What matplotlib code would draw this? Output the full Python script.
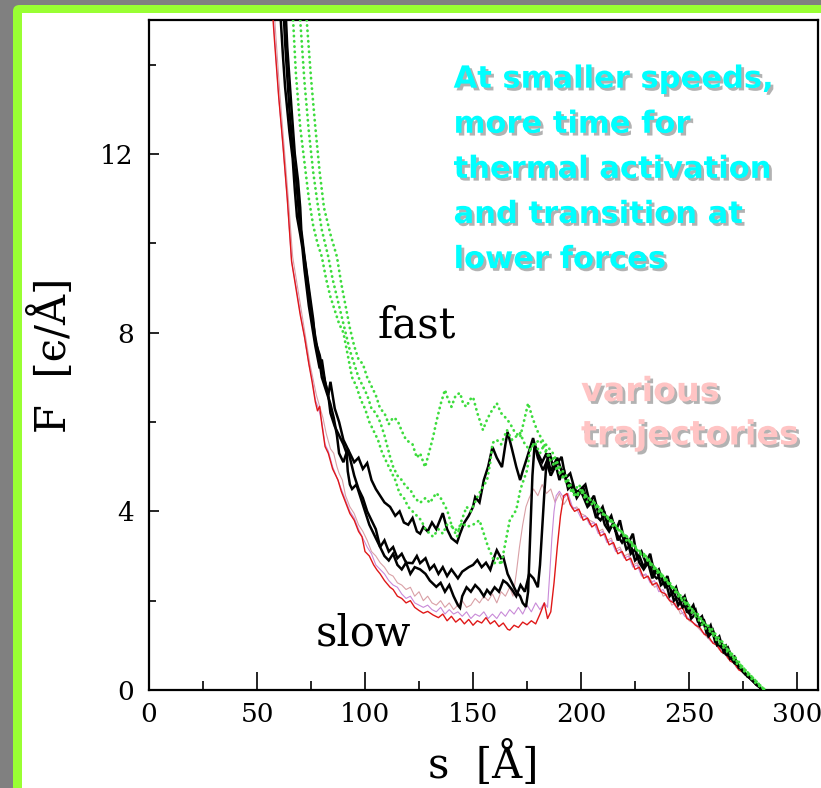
import matplotlib
matplotlib.use("Agg")
import matplotlib.pyplot as plt
import matplotlib.patheffects as pe
from matplotlib.patches import FancyBboxPatch, Rectangle

# ---- force-extension traces: (s [Å], F [eps/Å]) ----
red_trace = [(56,16.0),(58,14.6),(60,13.3),(62,12.2),(64,11.0),(66,9.6),(68,9.0),(70,8.4),(72,7.9),(74,7.3),
             (75.5,6.9),(77,6.45),(78,6.25),(79,6.35),(80,5.95),(81.5,5.45),(83,5.3),(85,4.95),(87.5,4.7),(89,4.45),
             (91,4.2),(93,3.95),(95,3.8),(97,3.55),(98.6,3.43),(100,3.1),(102,3.0),(104,2.8),(105.5,2.69),(107,2.6),
             (109,2.45),(111.6,2.3),(113,2.25),(115,2.1),(117,2.05),(119,1.95),(121,2.0),(123,1.85),(125,1.78),(127,1.72),
             (129,1.76),(131.5,1.68),(134,1.62),(136,1.7),(138,1.55),(140,1.65),(142,1.52),(144,1.6),(146,1.48),(148,1.58),
             (150,1.45),(152,1.55),(154,1.5),(156,1.62),(158,1.48),(160,1.55),(162,1.42),(164,1.5),(166,1.36),(167,1.34),
             (169,1.45),(171,1.4),(173,1.52),(175,1.46),(177,1.55),(179,1.48),(181,1.7),(183,1.95),(184.5,1.6),(186,1.75),
             (187.5,2.4),(189,3.2),(190.5,3.9),(192,4.35),(193.5,4.4),(195,4.15),(197,4.0),(199,4.05),(201,3.8),(203,3.85),
             (205,3.65),(207,3.72),(209,3.45),(211,3.5),(213,3.25),(215,3.3),(217,3.05),(219,3.1),(221,2.9),(223,2.95),
             (225,2.7),(227,2.75),(229,2.5),(231,2.55),(233,2.35),(235,2.4),(237,2.2),(239,2.15),(241,2.0),(243,1.95),
             (245,1.8),(247,1.85),(249,1.6),(251,1.55),(253,1.45),(255,1.4),(257,1.25),(259,1.2),(261,1.05),(263,1.0),
             (265,0.85),(267,0.8),(269,0.65),(271,0.6),(273,0.45),(275,0.4),(277,0.3),(279,0.22),(281,0.12),(283,0.04),(284,0.0)]

rose_trace = [(57,16.0),(58.5,14.8),(60.5,13.4),(62.5,12.2),(64.5,11.0),(66.5,9.7),(68.5,9.1),(70.5,8.5),(72.5,7.9),(74.5,7.3),
              (76,6.95),(77.5,6.6),(79,6.35),(80.5,6.1),(82,5.75),(84,5.4),(85.5,5.3),(87,5.0),(88,4.85),(89.5,4.7),
              (91,4.35),(93,4.1),(95,3.95),(97,3.7),(99,3.55),(101,3.35),(103,3.1),(105,3.0),(107,2.85),(109,2.75),
              (111,2.6),(113,2.55),(115,2.4),(117,2.35),(119,2.25),(121,2.3),(123,2.1),(125,2.2),(127,2.0),(129,2.1),
              (131,1.95),(133,1.9),(135,2.0),(137,1.85),(139,1.95),(141,1.8),(143,1.9),(145,2.0),(147,1.85),(149,1.9),
              (151,2.05),(153,1.95),(155,2.1),(157,2.0),(159,2.15),(161,1.95),(163,2.2),(165,2.1),(167,2.3),(168.5,2.1),
              (170,2.6),(171.5,3.2),(173,3.7),(174.5,4.1),(176,4.3),(178,4.5),(180,4.35),(182,4.6),(184,4.4),(186,4.5),
              (188,4.2),(190,4.4),(192,4.15),(194,4.3),(196,4.05),(198,4.1),(200,3.95),(202,3.9),(204,3.8),(206,3.75),
              (208,3.55),(210,3.6),(212,3.35),(214,3.4),(216,3.15),(218,3.2),(220,3.0),(222,3.05),(224,2.8),(226,2.85),
              (228,2.6),(230,2.55),(232,2.5),(234,2.3),(236,2.35),(238,2.1),(240,2.15),(242,1.9),(244,1.95),(246,1.7),
              (248,1.75),(250,1.55),(252,1.5),(254,1.4),(256,1.3),(258,1.2),(260,1.1),(262,1.05),(264,0.9),(266,0.85),
              (268,0.7),(270,0.65),(272,0.5),(274,0.45),(276,0.35),(278,0.25),(280,0.18),(282,0.08),(284,0.0)]

violet_trace = [(56.5,16.0),(58,14.7),(60,13.3),(62,12.2),(64,11.0),(66,9.6),(68,9.05),(70,8.45),(72,7.9),(74,7.3),
                (75.5,6.95),(77,6.5),(78.5,6.3),(80,6.0),(81.5,5.5),(83,5.35),(85,5.0),(87,4.75),(89,4.5),(91,4.25),
                (93,4.0),(95,3.85),(97,3.6),(99,3.4),(101,3.2),(103,3.05),(105,2.8),(107,2.7),(109,2.6),(111,2.45),
                (113,2.35),(115,2.3),(117,2.15),(119,2.05),(121,2.1),(123,1.95),(125,1.9),(127,1.85),(129,1.9),(131,1.8),
                (133,1.75),(135,1.85),(137,1.7),(139,1.8),(141,1.7),(143,1.75),(145,1.65),(147,1.75),(149,1.6),(151,1.7),
                (153,1.65),(155,1.75),(157,1.6),(159,1.7),(161,1.6),(163,1.75),(165,1.65),(167,1.8),(169,1.7),(171,1.85),
                (173,1.7),(175,1.9),(177,1.75),(179,1.95),(181,1.8),(183,1.95),(184.5,1.85),(185.5,2.6),(186.5,3.4),(187.5,4.0),
                (188.5,4.35),(190,4.45),(192,4.3),(194,4.4),(196,4.1),(198,4.05),(200,3.85),(202,3.9),(204,3.7),(206,3.75),
                (208,3.5),(210,3.55),(212,3.3),(214,3.35),(216,3.1),(218,3.15),(220,2.95),(222,3.0),(224,2.75),(226,2.8),
                (228,2.55),(230,2.6),(232,2.4),(234,2.45),(236,2.2),(238,2.25),(240,2.05),(242,2.0),(244,1.85),(246,1.8),
                (248,1.65),(250,1.6),(252,1.5),(254,1.45),(256,1.3),(258,1.25),(260,1.1),(262,1.05),(264,0.95),(266,0.85),
                (268,0.75),(270,0.65),(272,0.55),(274,0.45),(276,0.35),(278,0.27),(280,0.17),(282,0.08),(283.5,0.0)]

black_trace_1 = [(60,16.0),(61,15.0),(62,14.2),(63,13.5),(65,12.5),(66.5,11.9),(67.5,11.2),(68.5,10.6),(70,10.2),(71,9.9),
                 (72,9.4),(74,8.6),(76,8.0),(77,7.7),(79,7.2),(80,7.4),(81.5,6.9),(83,6.6),(84,6.9),(86,6.3),
                 (88,6.0),(90,5.6),(91.5,5.45),(93,5.3),(95,5.1),(97,5.2),(99,4.95),(101,5.08),(103,4.7),(105,4.5),
                 (107,4.35),(109,4.2),(111.6,4.1),(114,3.9),(116,4.0),(118,3.75),(120,3.7),(122,3.85),(124,3.55),(125.5,3.5),
                 (127,3.65),(129,3.55),(131,3.75),(133,3.6),(136,3.96),(138,3.6),(140,3.4),(142.6,3.3),(144,3.5),(146,3.75),
                 (148,3.9),(150,4.1),(151,4.32),(153,4.2),(155,4.7),(157,5.0),(159,5.44),(161,5.2),(163.4,4.99),(165,5.5),
                 (166,5.78),(168,5.4),(170,5.0),(171.8,4.7),(173,4.9),(175,5.2),(177.8,5.64),(180,5.2),(182.4,4.92),(184,5.1),
                 (186,4.8),(188,5.0),(191,5.22),(193,4.7),(195,4.6),(197,4.4),(199.5,4.48),(202,4.6),(204,4.2),(206,4.35),
                 (208,3.95),(210,4.1),(212,3.75),(214,3.9),(216,3.55),(218,3.8),(220,3.35),(222,3.3),(224,3.5),(226,2.95),
                 (228,3.1),(230,2.85),(232,3.05),(234,2.6),(236,2.7),(238,2.4),(240,2.55),(242,2.15),(244,2.3),(246,1.95),
                 (248,2.1),(250,1.75),(252,1.9),(254,1.55),(256,1.65),(258,1.3),(260,1.45),(262,1.1),(264,1.2),(266,0.85),
                 (268,0.95),(270,0.7),(272,0.6),(274,0.5),(276,0.35),(278,0.3),(280,0.18),(282,0.1),(284,0.0)]

black_trace_2 = [(61.5,16.0),(63,14.5),(65,13.0),(67,11.8),(68,11.5),(69.5,10.6),(71,10.0),(73,9.3),(75,8.5),(77,7.9),
                 (78.5,7.5),(80,7.0),(82,6.7),(84,6.4),(85.5,6.1),(87,5.7),(88,5.3),(90,5.1),(92,5.4),(93,5.2),
                 (95,4.8),(97,4.5),(99,4.3),(101,4.0),(103,3.8),(105,3.6),(107,3.2),(109,3.35),(111,3.1),(113,3.2),
                 (115,2.95),(117,3.05),(119,2.85),(122,2.84),(124,3.0),(125.5,2.84),(128,2.95),(130,2.7),(132,2.8),(134,2.6),
                 (136,2.75),(138,2.55),(140,2.7),(143,2.5),(145,2.65),(148,2.75),(150,2.8),(152,2.91),(154,2.75),(156,2.85),
                 (158,2.69),(160,3.0),(161,3.13),(163,2.95),(164,2.98),(166,2.6),(168,2.4),(170,2.2),(171.8,2.1),(173,1.95),
                 (174.5,1.86),(175.5,2.2),(176.5,3.5),(177.5,4.8),(178.5,5.5),(180,5.3),(182,5.1),(184,5.3),(186,4.9),(188,5.1),
                 (190,4.7),(192,4.95),(194,4.5),(196,4.6),(198,4.3),(200,4.45),(203,4.1),(205,4.2),(207,3.85),(209,4.05),
                 (211,3.7),(213,3.55),(215,3.75),(217,3.35),(219,3.5),(221,3.15),(223,3.25),(225,2.9),(227,3.0),(229,2.75),
                 (231,2.95),(233,2.6),(235,2.5),(237,2.55),(239,2.3),(241,2.35),(243,2.0),(245,2.1),(247,1.85),(249,1.95),
                 (251,1.6),(253,1.7),(255,1.45),(257,1.5),(259,1.2),(261,1.3),(263,1.0),(265,1.05),(267,0.8),(269,0.75),
                 (271,0.6),(273,0.55),(275,0.4),(277,0.32),(279,0.22),(281,0.14),(283,0.05),(284.5,0.0)]

black_trace_3 = [(62.5,16.0),(64,14.4),(66,13.0),(67.5,12.0),(69,11.4),(70,10.8),(70.5,10.3),(72,9.7),(74,9.0),(76,8.3),
                 (77,7.8),(79,7.5),(81,7.0),(83,6.6),(84,6.2),(86,5.9),(88,5.7),(90,5.5),(91.5,5.3),(92,4.9),
                 (93,4.6),(94,4.5),(96,4.6),(98,4.3),(100,4.0),(102,3.7),(104,3.5),(106,3.3),(107,3.2),(109,3.0),
                 (111,2.9),(113,3.05),(115,2.8),(117,2.7),(119,2.85),(121,2.6),(123,2.75),(125.5,2.7),(128,2.6),(130,2.45),
                 (133,2.31),(135,2.4),(137,2.2),(139,2.35),(141,2.1),(143,1.9),(144,1.84),(145,2.1),(147,2.3),(149,2.2),
                 (151,2.35),(153,2.25),(155,2.1),(156.5,2.24),(158,2.15),(160,2.3),(162,2.2),(164,2.45),(165.7,2.39),(168,2.25),
                 (170,2.1),(172,2.35),(174,2.2),(176,2.6),(178,2.5),(180,2.3),(181,2.8),(182,3.6),(183,4.4),(184,5.1),
                 (185.5,5.3),(187,5.0),(189,5.2),(191,4.9),(193,4.75),(195,4.85),(197,4.5),(199,4.4),(201,4.55),(203,4.15),
                 (205,4.25),(207,3.9),(209,3.8),(211,3.95),(213,3.6),(215,3.7),(217,3.45),(219,3.3),(221,3.45),(223,3.05),
                 (225,3.15),(227,2.85),(229,2.7),(231,2.85),(233,2.5),(235,2.7),(237,2.35),(239,2.45),(241,2.1),(243,2.2),
                 (245,1.9),(247,2.05),(249,1.75),(251,1.7),(253,1.8),(255,1.45),(257,1.55),(259,1.25),(261,1.35),(263,1.05),
                 (265,0.95),(267,1.0),(269,0.7),(271,0.75),(273,0.5),(275,0.45),(277,0.3),(279,0.25),(281,0.12),(283,0.05),(284,0.0)]

green_trace_1 = [(72.3,16.0),(73,15.0),(75,13.7),(77,12.6),(79,11.6),(81,10.8),(84,10.2),(87,9.7),(89,9.1),(91,8.6),
                 (93,8.1),(95,7.7),(97,7.4),(99,7.3),(101,7.0),(103,6.8),(105,6.6),(107,6.3),(109,6.2),(111,5.95),
                 (113,6.1),(115,6.04),(117,5.8),(119,5.6),(122,5.5),(124,5.2),(125.5,5.3),(127.8,4.99),(129,5.2),(131.5,5.66),
                 (133,6.0),(135,6.4),(137,6.72),(138.5,6.5),(140,6.34),(142,6.6),(144,6.65),(145.5,6.4),(147,6.34),(148.5,6.5),
                 (150,6.56),(152,6.2),(154.6,5.82),(156,6.0),(158,6.2),(161,6.42),(163,6.2),(165,6.1),(167,5.98),(169,5.8),
                 (171.8,5.66),(173.5,6.0),(175.5,6.42),(177.5,6.1),(179.6,5.82),(182,5.6),(184.5,5.45),(187,5.3),(190,5.0),(193,4.8),
                 (195,4.6),(198,4.32),(200,4.5),(203,4.3),(206,4.2),(209,4.05),(212,3.85),(215,3.75),(218,3.55),(221,3.45),
                 (224,3.2),(227,3.1),(230,2.95),(233,2.75),(236,2.6),(239,2.45),(242,2.3),(245,2.1),(248,1.95),(251,1.75),
                 (254,1.6),(257,1.4),(260,1.3),(263,1.1),(266,0.95),(269,0.8),(272,0.6),(275,0.45),(278,0.3),(281,0.15),
                 (284,0.03),(285,0.0)]

green_trace_2 = [(69.3,16.0),(70,15.0),(72,13.6),(74,12.5),(76,11.6),(78,10.9),(80,10.3),(83,9.7),(85,9.2),(87,8.8),
                 (89,8.4),(91,8.0),(93,7.6),(95,7.3),(97,7.0),(99,6.8),(101,6.6),(103,6.3),(105,6.2),(107,6.0),
                 (109,5.7),(111.6,5.22),(113,5.0),(115,4.8),(117,4.7),(119,4.55),(121,4.48),(123,4.3),(125.5,4.19),(128,4.3),
                 (130,4.19),(133,4.41),(135,4.3),(138,4.03),(140,3.7),(142.6,3.43),(144,3.7),(147,4.1),(149,4.0),(152,4.32),
                 (154,4.5),(156.5,4.7),(158,5.1),(159,5.53),(161,5.6),(163,5.5),(165.7,5.82),(168,5.6),(171.8,5.75),(174,5.5),
                 (176.4,5.37),(178,5.5),(181,5.6),(184,5.3),(187,5.2),(190,4.9),(193,4.7),(196,4.4),(199,4.6),(202,4.35),
                 (205,4.25),(208,4.1),(211,3.9),(214,3.8),(217,3.6),(220,3.5),(223,3.3),(226,3.15),(229,3.05),(232,2.85),
                 (235,2.7),(238,2.55),(241,2.35),(244,2.25),(247,2.0),(250,1.9),(253,1.7),(256,1.55),(259,1.4),(262,1.2),
                 (265,1.05),(268,0.9),(271,0.7),(274,0.55),(277,0.4),(280,0.25),(283,0.1),(285,0.0)]

green_trace_3 = [(66,16.0),(66.7,15.0),(68,13.8),(70,12.6),(72,11.8),(74,11.0),(76,10.4),(78,10.0),(80,9.7),(82,9.2),
                 (84,8.8),(86,8.5),(88,8.2),(90,8.0),(92,7.5),(94,7.0),(96,6.8),(98,6.5),(100,6.3),(102,6.0),
                 (104,5.8),(106,5.6),(108,5.3),(110,5.1),(112,4.9),(114,4.7),(116,4.4),(118,4.3),(120,4.1),(122,4.0),
                 (124,3.9),(126,3.8),(128,3.6),(130,3.5),(131.5,3.43),(134,3.6),(136,3.5),(138,3.7),(140.7,3.65),(143,3.55),
                 (145,3.75),(147,3.65),(150,3.7),(153,3.8),(155,3.5),(157,3.2),(159,2.98),(160,2.84),(161.5,2.95),(163,2.8),
                 (165,3.3),(167,3.8),(170,4.03),(172,4.5),(175,4.92),(176.5,5.4),(178.7,5.53),(181,5.3),(183,5.5),(185,5.2),
                 (188,5.0),(191,4.8),(194,4.6),(197,4.35),(200,4.45),(203,4.2),(206,4.15),(209,3.95),(212,3.9),(215,3.65),
                 (218,3.6),(221,3.35),(224,3.3),(227,3.05),(230,3.0),(233,2.8),(236,2.65),(239,2.5),(242,2.35),(245,2.15),
                 (248,2.05),(251,1.8),(254,1.7),(257,1.5),(260,1.4),(263,1.2),(266,1.05),(269,0.85),(272,0.7),(275,0.5),
                 (278,0.35),(281,0.2),(284,0.05),(285.5,0.0)]

x_ticks = [0, 50, 100, 150, 200, 250, 300]
y_ticks = [0, 4, 8, 12]

note_text = "At smaller speeds,\nmore time for\nthermal activation\nand transition at\nlower forces"
traj_text = "various\ntrajectories"

W, H = 821, 788
fig = plt.figure(figsize=(W / 100, H / 100), dpi=100)
fig.patch.set_facecolor("#808080")

# slide frame: lime border with white panel, kept behind the axes
fig.patches.append(FancyBboxPatch((13 / W, -0.05), 1.2, 1 - 5 / H + 0.05,
                                  boxstyle="round,pad=0,rounding_size=0.008",
                                  transform=fig.transFigure, facecolor="#99ff33",
                                  edgecolor="none", zorder=-3))
fig.patches.append(Rectangle((22 / W, -0.05), 1.2, 1 - 13 / H + 0.05,
                             transform=fig.transFigure, facecolor="white",
                             edgecolor="none", zorder=-2))

ax = fig.add_axes([149 / W, 1 - 690 / H, (818 - 149) / W, (690 - 20) / H])
ax.set_facecolor("white")


def draw(trace, **kw):
    s = [p[0] for p in trace]
    f = [p[1] for p in trace]
    ax.plot(s, f, **kw)


draw(rose_trace, color="#d9a0a6", lw=0.8, zorder=2)
draw(violet_trace, color="#c98ad8", lw=0.8, zorder=2)
draw(red_trace, color="#e01818", lw=1.0, zorder=3)
for tr in (black_trace_1, black_trace_2, black_trace_3):
    draw(tr, color="black", lw=1.8, zorder=4, solid_joinstyle="miter")
for tr in (green_trace_1, green_trace_2, green_trace_3):
    draw(tr, color="#3ddc3d", lw=2.0, linestyle=(0, (0.1, 1.8)),
         dash_capstyle="round", zorder=5)

ax.set_xlim(0, 309.7)
ax.set_ylim(0, 15)
ax.set_xticks(x_ticks)
ax.set_xticks([25, 75, 125, 175, 225, 275], minor=True)
ax.set_yticks(y_ticks)
ax.set_yticks([2, 6, 10, 14], minor=True)

serif = "DejaVu Serif"
ax.tick_params(axis="x", which="major", direction="in", length=13, width=1.2,
               labelsize=19, pad=9)
ax.tick_params(axis="x", which="minor", direction="in", length=6.5, width=1.2)
ax.tick_params(axis="y", which="major", direction="in", length=7, width=1.2,
               labelsize=19, pad=11)
ax.tick_params(axis="y", which="minor", direction="in", length=5, width=1.2)
for lab in ax.get_xticklabels() + ax.get_yticklabels():
    lab.set_fontfamily(serif)
for sp in ax.spines.values():
    sp.set_linewidth(1.6)

ax.set_xlabel("s  [Å]", fontsize=30, fontfamily=serif, labelpad=10)
ax.set_ylabel("F  [ϵ/Å]", fontsize=30, fontfamily=serif, labelpad=18)

ax.text(106, 7.9, "fast", fontsize=30, fontfamily=serif, zorder=6)
ax.text(77, 1.0, "slow", fontsize=30, fontfamily=serif, zorder=6)

shadow = [pe.SimplePatchShadow(offset=(2, -2), shadow_rgbFace="#555555", alpha=0.45),
          pe.Normal()]
ax.text(141, 14.0, note_text, fontsize=22, fontweight="bold", color="#00ffff",
        fontfamily="DejaVu Sans", va="top", ha="left", linespacing=1.7,
        path_effects=shadow, zorder=7)
ax.text(200, 7.05, traj_text, fontsize=24, fontweight="bold", color="#ffc4c4",
        fontfamily="DejaVu Sans", va="top", ha="left", linespacing=1.4,
        path_effects=shadow, zorder=7)

fig.savefig("out.png", dpi=100, facecolor=fig.get_facecolor())
